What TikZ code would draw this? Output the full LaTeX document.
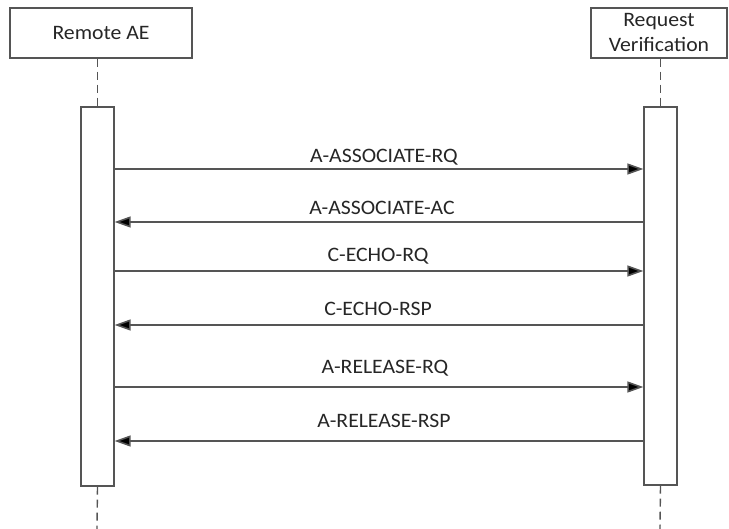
\documentclass[tikz,border=0pt]{standalone}
\usepackage{fontspec}
\setmainfont{Carlito}[FakeStretch=1.06]
\usetikzlibrary{arrows.meta}
\definecolor{linegray}{HTML}{555555}
\definecolor{txtgray}{HTML}{262626}
\tikzset{
  x=1pt, y=-1pt,
  actor/.style={draw=linegray, line width=1.3pt, fill=white, text=txtgray, font=\fontsize{20.5}{25}\selectfont, align=center, inner sep=0pt},
  actbox/.style={draw=linegray, line width=1.3pt, fill=white, inner sep=0pt},
  lifeline/.style={draw=linegray, line width=1.4pt, dash pattern=on 8pt off 5pt},
  msg/.style={draw=linegray, line width=1.6pt, -{Triangle[length=16pt,width=11pt,fill=black]}},
  msglabel/.style={text=txtgray, font=\fontsize{20.5}{25}\selectfont, inner sep=0pt}
}
\begin{document}
\begin{tikzpicture}
\useasboundingbox (0,0) rectangle (729,529);
% actors
\node[actor, minimum width=182pt, minimum height=50pt] (ae) at (101,33) {Remote AE};
\node[actor, minimum width=136pt, minimum height=50pt] (rv) at (659,33) {Request\\Verification};
% activation boxes
\node[actbox, minimum width=33pt, minimum height=379pt] (actL) at (97.5,296.5) {};
\node[actbox, minimum width=33pt, minimum height=378pt] (actR) at (660.5,296) {};
% lifelines
\coordinate (endL) at (97,529);
\coordinate (endR) at (660,529);
\draw[lifeline] (ae.south -| actL.north) -- (actL.north);
\draw[lifeline] (rv.south -| actR.north) -- (actR.north);
\draw[lifeline] (actL.south) -- (endL);
\draw[lifeline] (actR.south) -- (endR);
% message anchor coordinates
\foreach \n/\y in {1/169,2/222,3/271,4/325,5/387,6/441}{
  \coordinate (L\n) at (actL.east |- 0,\y);
  \coordinate (R\n) at (actR.west |- 0,\y);
}
% messages
\draw[msg] (L1) -- (R1);
\draw[msg] (R2) -- (L2);
\draw[msg] (L3) -- (R3);
\draw[msg] (R4) -- (L4);
\draw[msg] (L5) -- (R5);
\draw[msg] (R6) -- (L6);
% labels
\node[msglabel] (m1) at (384,157) {A-ASSOCIATE-RQ};
\node[msglabel] (m2) at (382,208) {A-ASSOCIATE-AC};
\node[msglabel] (m3) at (378,256) {C-ECHO-RQ};
\node[msglabel] (m4) at (378,309) {C-ECHO-RSP};
\node[msglabel] (m5) at (385,368) {A-RELEASE-RQ};
\node[msglabel] (m6) at (384,421) {A-RELEASE-RSP};
\end{tikzpicture}
\end{document}
